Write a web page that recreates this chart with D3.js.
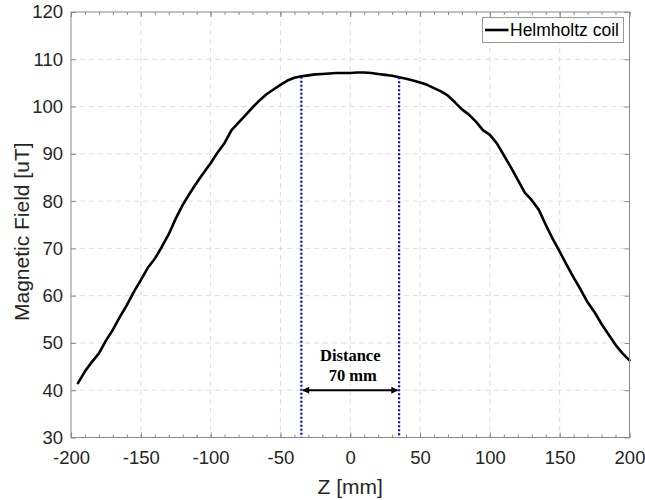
<!DOCTYPE html>
<html>
<head>
<meta charset="utf-8">
<script src="https://cdn.jsdelivr.net/npm/d3@7"></script>
<style>
  html, body { margin: 0; padding: 0; background: #fff; }
  svg { display: block; }
</style>
</head>
<body>
<svg id="chart" width="645" height="500"></svg>
<script>
// ---- data ----
const zValues = [-195,-190,-185,-180,-175,-170,-165,-160,-155,-150,-145,-140,-135,-130,-125,-120,-115,-110,-105,-100,
  -95,-90,-85,-80,-75,-70,-65,-60,-55,-50,-45,-40,-35,-30,-25,-20,-15,-10,-5,0,
  5,10,15,20,25,30,35,40,45,50,55,60,65,70,75,80,85,90,95,100,
  105,110,115,120,125,130,135,140,145,150,155,160,165,170,175,180,185,190,195,200];
const fieldValues = [41.5,44.0,46.0,47.8,50.5,52.8,55.5,58.0,60.8,63.3,65.9,67.8,70.3,73.0,76.3,79.2,81.6,83.9,86.0,88.0,
  90.3,92.3,95.0,96.6,98.2,99.8,101.3,102.6,103.6,104.6,105.5,106.1,106.4,106.6,106.8,106.9,107.0,107.1,107.1,107.1,
  107.2,107.2,107.1,106.9,106.7,106.5,106.2,105.9,105.5,105.1,104.6,103.9,103.2,102.3,100.9,99.4,98.3,96.8,95.0,94.0,
  92.2,89.7,87.2,84.5,81.8,80.2,78.2,75.0,72.0,69.3,66.5,63.8,61.3,58.6,56.5,54.0,51.8,49.6,47.8,46.3];
const xTicks = [-200,-150,-100,-50,0,50,100,150,200];
const yTicks = [30,40,50,60,70,80,90,100,110,120];
const markerZ = [-35, 35];
const markerTop = [106.3, 106.2];
const arrowLevel = 40;
const annotationLines = ["Distance", "70 mm"];
const seriesName = "Helmholtz coil";
const xLabel = "Z [mm]";
const yLabel = "Magnetic Field [uT]";

// ---- layout ----
const svg = d3.select("#chart");
const L = 71, R = 629.5, T = 12, B = 437.5;
const x = d3.scaleLinear().domain([-200, 200]).range([L, R]);
const y = d3.scaleLinear().domain([30, 120]).range([B, T]);
const axisColor = "#8a8a8a";
const textColor = "#262626";
const fmt = d => String(d);

// grid
const grid = svg.append("g").attr("stroke", "#dedede").attr("stroke-width", 1).attr("stroke-dasharray", "5,4");
grid.selectAll("line.v").data(xTicks.slice(1, -1)).join("line")
  .attr("x1", d => x(d)).attr("x2", d => x(d)).attr("y1", T).attr("y2", B);
grid.selectAll("line.h").data(yTicks.slice(1, -1)).join("line")
  .attr("x1", L).attr("x2", R).attr("y1", d => y(d)).attr("y2", d => y(d));

// curve
const data = zValues.map((z, i) => ({ z, b: fieldValues[i] }));
svg.append("path").datum(data)
  .attr("fill", "none").attr("stroke", "#000").attr("stroke-width", 2.6)
  .attr("stroke-linejoin", "round").attr("stroke-linecap", "round")
  .attr("d", d3.line().x(d => x(d.z)).y(d => y(d.b)));

// blue dotted markers
svg.append("g").selectAll("line").data(markerZ).join("line")
  .attr("x1", d => x(d)).attr("x2", d => x(d))
  .attr("y1", (d, i) => y(markerTop[i])).attr("y2", B)
  .attr("stroke", "#0000ee").attr("stroke-width", 2.2).attr("stroke-dasharray", "2,2");

// arrow
const defs = svg.append("defs");
defs.append("marker").attr("id", "ah").attr("viewBox", "0 0 10 10")
  .attr("refX", 9).attr("refY", 5).attr("markerWidth", 9).attr("markerHeight", 7)
  .attr("markerUnits", "userSpaceOnUse").attr("orient", "auto-start-reverse")
  .append("path").attr("d", "M0,0 L10,5 L0,10 Z").attr("fill", "#000");
svg.append("line")
  .attr("x1", x(markerZ[0]) + 1.5).attr("x2", x(markerZ[1]) - 1.5)
  .attr("y1", y(arrowLevel)).attr("y2", y(arrowLevel))
  .attr("stroke", "#000").attr("stroke-width", 2)
  .attr("marker-start", "url(#ah)").attr("marker-end", "url(#ah)");

const ann = svg.append("text").attr("font-family", "'Liberation Serif', 'Times New Roman', serif")
  .attr("font-weight", "bold").attr("font-size", 16.5).attr("fill", "#000").attr("text-anchor", "middle");
ann.append("tspan").attr("x", x(0)).attr("y", y(arrowLevel) - 29).text(annotationLines[0]);
ann.append("tspan").attr("x", x(0) + 2.5).attr("y", y(arrowLevel) - 9).text(annotationLines[1]);

// axes
const fontFam = "'Liberation Sans', Arial, sans-serif";
function styleAxis(g) {
  g.select(".domain").remove();
  g.selectAll(".tick line").attr("stroke", axisColor);
  g.selectAll(".tick text").attr("fill", textColor).attr("font-family", fontFam).attr("font-size", 18.5);
}
const minorX = d3.range(-200, 201, 10);
svg.append("g").attr("transform", `translate(0,${B})`)
  .call(d3.axisBottom(x).tickValues(minorX).tickSize(-3).tickFormat(""))
  .call(styleAxis);
svg.append("g").attr("transform", `translate(0,${T})`)
  .call(d3.axisTop(x).tickValues(minorX).tickSize(-3).tickFormat(""))
  .call(styleAxis);
svg.append("g").attr("transform", `translate(0,${B})`)
  .call(d3.axisBottom(x).tickValues(xTicks).tickSize(-5).tickPadding(13).tickFormat(fmt))
  .call(styleAxis);
svg.append("g").attr("transform", `translate(0,${T})`)
  .call(d3.axisTop(x).tickValues(xTicks).tickSize(-5).tickFormat(""))
  .call(styleAxis);
svg.append("g").attr("transform", `translate(${L},0)`)
  .call(d3.axisLeft(y).tickValues(yTicks).tickSize(-5).tickPadding(8).tickFormat(fmt))
  .call(styleAxis);
svg.append("g").attr("transform", `translate(${R},0)`)
  .call(d3.axisRight(y).tickValues(yTicks).tickSize(-5).tickFormat(""))
  .call(styleAxis);

// box
svg.append("rect").attr("x", L).attr("y", T).attr("width", R - L).attr("height", B - T)
  .attr("fill", "none").attr("stroke", axisColor).attr("stroke-width", 1);

// axis labels
svg.append("text").attr("x", (L + R) / 2).attr("y", 494).attr("text-anchor", "middle")
  .attr("font-family", fontFam).attr("font-size", 21).attr("fill", textColor).text(xLabel);
svg.append("text").attr("transform", `translate(29,${(T + B) / 2 + 7}) rotate(-90)`).attr("text-anchor", "middle")
  .attr("font-family", fontFam).attr("font-size", 21).attr("fill", textColor).text(yLabel);

// legend
const lg = svg.append("g");
lg.append("rect").attr("x", 482.5).attr("y", 17.5).attr("width", 141).attr("height", 25)
  .attr("fill", "#fff").attr("stroke", "#9a9a9a").attr("stroke-width", 1);
lg.append("line").attr("x1", 485).attr("x2", 508.5).attr("y1", 30).attr("y2", 30)
  .attr("stroke", "#000").attr("stroke-width", 2.6);
lg.append("text").attr("x", 510).attr("y", 36).attr("font-family", fontFam).attr("font-size", 17.5)
  .attr("fill", "#000").text(seriesName);
</script>
</body>
</html>
